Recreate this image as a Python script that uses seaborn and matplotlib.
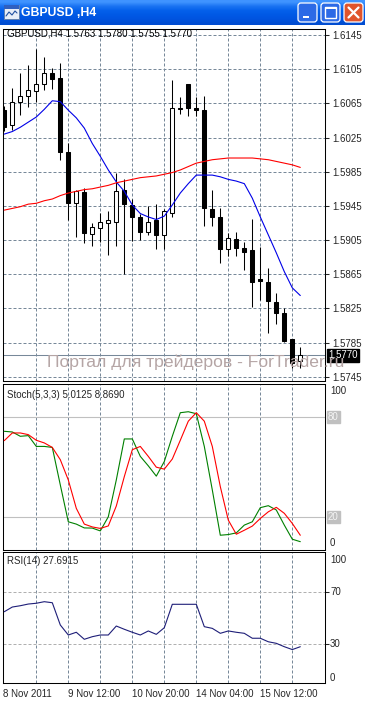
import numpy as np
import pandas as pd
import seaborn as sns
import matplotlib.pyplot as plt
from matplotlib.patches import FancyBboxPatch, Rectangle

# --- GBPUSD H4 candles ---
opens = [1.6057, 1.6040, 1.6066, 1.6074, 1.6080, 1.6088, 1.6101, 1.6095, 1.6008, 1.5948,
         1.5961, 1.5912, 1.5919, 1.5925, 1.5926, 1.5964, 1.5946, 1.5932, 1.5914, 1.5928,
         1.5911, 1.5937, 1.6060, 1.6088, 1.6060, 1.6057, 1.5941, 1.5932, 1.5894, 1.5906,
         1.5896, 1.5893, 1.5859, 1.5856, 1.5832, 1.5820, 1.5789, 1.5763]
highs = [1.6062, 1.6083, 1.6100, 1.6110, 1.6129, 1.6119, 1.6106, 1.6112, 1.6018, 1.5964,
         1.5966, 1.5925, 1.5937, 1.5939, 1.5984, 1.5977, 1.5953, 1.5935, 1.5945, 1.5947,
         1.5941, 1.6092, 1.6073, 1.6088, 1.6073, 1.6074, 1.5964, 1.5942, 1.5913, 1.5914,
         1.5903, 1.5930, 1.5897, 1.5872, 1.5843, 1.5826, 1.5789, 1.5780]
lows = [1.6033, 1.6034, 1.6051, 1.6061, 1.6067, 1.6081, 1.6082, 1.5999, 1.5928, 1.5908,
        1.5902, 1.5898, 1.5903, 1.5887, 1.5898, 1.5865, 1.5904, 1.5905, 1.5911, 1.5894,
        1.5895, 1.5932, 1.6053, 1.6050, 1.6050, 1.5921, 1.5921, 1.5878, 1.5886, 1.5886,
        1.5870, 1.5827, 1.5835, 1.5796, 1.5807, 1.5786, 1.5755, 1.5755]
closes = [1.6037, 1.6067, 1.6074, 1.6081, 1.6088, 1.6101, 1.6094, 1.6008, 1.5948, 1.5962,
          1.5913, 1.5920, 1.5926, 1.5928, 1.5962, 1.5947, 1.5932, 1.5914, 1.5926, 1.5911,
          1.5939, 1.6059, 1.6058, 1.6059, 1.6057, 1.5942, 1.5932, 1.5895, 1.5907, 1.5896,
          1.5891, 1.5856, 1.5857, 1.5834, 1.5820, 1.5787, 1.5761, 1.5770]

# moving averages (blue = fast, red = slow)
ma_fast = [1.6029, 1.6032, 1.6037, 1.6043, 1.6049, 1.6058, 1.6068, 1.6067, 1.6057, 1.6048,
           1.6036, 1.6018, 1.6003, 1.5987, 1.5973, 1.5962, 1.5946, 1.5936, 1.5932, 1.5929,
           1.5933, 1.5946, 1.5960, 1.5971, 1.5981, 1.5981, 1.5981, 1.5979, 1.5976, 1.5974,
           1.5971, 1.5954, 1.5932, 1.5911, 1.5890, 1.5868, 1.5849, 1.5840]
ma_slow = [1.5940, 1.5942, 1.5944, 1.5947, 1.5948, 1.5951, 1.5953, 1.5957, 1.5960, 1.5962,
           1.5964, 1.5965, 1.5967, 1.5969, 1.5972, 1.5974, 1.5976, 1.5978, 1.5979, 1.5980,
           1.5982, 1.5984, 1.5987, 1.5991, 1.5995, 1.5997, 1.5999, 1.6000, 1.6001, 1.6001,
           1.6001, 1.6001, 1.6000, 1.5999, 1.5997, 1.5995, 1.5993, 1.5990]

# Stochastic(5,3,3)
stoch_main = [71.5, 71.1, 68.5, 68.9, 62.4, 62.4, 61.8, 39.2, 17.0, 15.6,
              13.3, 13.2, 11.5, 20.0, 42.2, 66.9, 66.9, 56.4, 50.7, 44.5,
              53.3, 68.5, 82.7, 83.3, 82.1, 62.4, 36.2, 8.9, 9.3, 10.3,
              15.0, 17.0, 25.5, 26.7, 24.1, 15.0, 6.5, 5.0125]
stoch_signal = [65.9, 70.5, 70.5, 69.5, 66.1, 64.5, 61.8, 54.4, 42.2, 25.1,
                15.6, 13.9, 13.0, 14.5, 26.5, 44.2, 60.4, 62.4, 56.4, 49.9,
                48.7, 54.8, 66.1, 77.6, 82.7, 77.6, 62.4, 38.2, 18.0, 9.5,
                11.9, 14.4, 19.0, 23.0, 25.7, 22.1, 16.0, 8.869]

# RSI(14)
rsi = [54.6, 58.2, 59.2, 60.5, 61.1, 62.3, 61.5, 44.4, 36.7, 38.8,
       33.4, 35.4, 36.7, 36.7, 43.6, 41.1, 38.8, 36.7, 39.8, 37.2,
       42.3, 60.3, 60.3, 60.3, 60.3, 43.1, 41.8, 38.0, 39.8, 38.8,
       38.0, 34.2, 34.2, 31.5, 30.3, 27.7, 25.5, 27.6915]

price_ticks = [1.6145, 1.6105, 1.6065, 1.6025, 1.5985, 1.5945, 1.5905, 1.5865, 1.5825, 1.5785, 1.5745]
date_ticks = [-0.125, 8, 16, 24, 32]
date_labels = ['8 Nov 2011', '9 Nov 12:00', '10 Nov 20:00', '14 Nov 04:00', '15 Nov 12:00']

W, H = 365, 702
GRID = '#778899'
FS = 7.0

sns.set_style('white')
plt.rcParams['font.family'] = ['Liberation Sans', 'DejaVu Sans']

df = pd.DataFrame({'bar': np.arange(len(closes)), 'open': opens, 'high': highs,
                   'low': lows, 'close': closes, 'ma_fast': ma_fast, 'ma_slow': ma_slow,
                   'k': stoch_main, 'd': stoch_signal, 'rsi': rsi})

fig = plt.figure(figsize=(W / 100, H / 100), dpi=100)
fig.patch.set_facecolor('white')


def px_axes(x0, y0, x1, y1):
    return fig.add_axes([x0 / W, 1 - y1 / H, (x1 - x0) / W, (y1 - y0) / H])


def ptext(x, y, s, **kw):
    return fig.text(x / W, 1 - y / H, s, **kw)


def style_panel(ax):
    for sp in ax.spines.values():
        sp.set_color('black')
        sp.set_linewidth(0.75)
        sp.set_visible(True)
    ax.set_facecolor('white')
    ax.set_xlim(-0.1625, 40.0875)
    for g in range(4, 40, 4):
        ax.axvline(g, color=GRID, lw=0.72, ls=(0, (3, 2)), zorder=0)


# --- title bar ---
tb = px_axes(0, 0, W, 25)
grad = np.array([[0.25, 0.58, 1.0], [0.10, 0.45, 0.95], [0.02, 0.38, 0.92],
                 [0.0, 0.35, 0.90], [0.0, 0.33, 0.88], [0.0, 0.30, 0.82]])
tb.imshow(grad[:, None, :], aspect='auto', extent=(0, W, 25, 0), interpolation='bilinear')
tb.set_xlim(0, W)
tb.set_ylim(25, 0)
tb.axis('off')
tb.add_patch(Rectangle((4, 5), 15, 14, fc='#e8eef8', ec='#6080b0', lw=0.7))
tb.add_patch(Rectangle((4, 5), 15, 4, fc='#3060c0', ec='none'))
tb.plot([6, 9, 12, 15, 17], [16, 12, 15, 11, 13], color='#2050a0', lw=0.8)
tb.text(21, 12.5, 'GBPUSD ,H4', color='white', fontsize=8.8, fontweight='bold',
        va='center', ha='left', family=['Liberation Sans', 'DejaVu Sans'])
for x0, fc in [(298, '#2c6ae6'), (321, '#2c6ae6'), (344, '#e0542c')]:
    tb.add_patch(FancyBboxPatch((x0, 3), 19, 19, boxstyle='round,pad=0,rounding_size=3',
                                fc=fc, ec='white', lw=0.9))
tb.add_patch(Rectangle((302.5, 15.5), 6, 2.5, fc='white', ec='none'))
tb.add_patch(Rectangle((325, 7), 11, 11, fc='none', ec='white', lw=1.0))
tb.add_patch(Rectangle((325, 7), 11, 2, fc='white', ec='none'))
tb.plot([348.5, 358.5], [7.5, 17.5], color='white', lw=1.6)
tb.plot([348.5, 358.5], [17.5, 7.5], color='white', lw=1.6)

# --- main price panel ---
ax = px_axes(3, 29, 325, 381)
style_panel(ax)
ax.set_ylim(1.573997, 1.615202)
for p in price_ticks:
    ax.axhline(p, color=GRID, lw=0.72, ls=(0, (3, 2)), zorder=0)
ax.axhline(closes[-1], color=GRID, lw=0.75, zorder=1)

ax.vlines(df['bar'], df['low'], df['high'], color='black', lw=0.75, zorder=2)
body_lo = np.minimum(df['open'], df['close'])
body_h = np.maximum((df['close'] - df['open']).abs(), 0.00008)
colors = ['white' if c >= o else 'black' for o, c in zip(opens, closes)]
ax.bar(df['bar'], body_h, bottom=body_lo, width=0.5, color=colors,
       edgecolor='black', linewidth=0.75, zorder=3)
sns.lineplot(data=df, x='bar', y='ma_fast', ax=ax, color='#0000e8', lw=0.8, zorder=4)
sns.lineplot(data=df, x='bar', y='ma_slow', ax=ax, color='#ff0000', lw=0.8, zorder=4)

ax.yaxis.tick_right()
ax.set_yticks(price_ticks)
ax.set_yticklabels([f'{p:.4f}' for p in price_ticks])
ax.tick_params(axis='y', direction='out', length=3, width=0.75, pad=2, labelsize=FS)
ax.set_xticks([])
ax.set_xlabel('')
ax.set_ylabel('')
ax.annotate(f'{closes[-1]:.4f}', xy=(1.0, closes[-1]), xycoords=('axes fraction', 'data'),
            xytext=(2.5, 0), textcoords='offset points', ha='left', va='center',
            fontsize=FS, color='white', annotation_clip=False, zorder=6,
            bbox=dict(boxstyle='square,pad=0.15', fc='black', ec='black'))
ptext(7, 34, f'GBPUSD,H4 {opens[-1]:.4f} {highs[-1]:.4f} {lows[-1]:.4f} {closes[-1]:.4f}',
      fontsize=FS, va='center', ha='left', color='black')
ptext(47, 362, 'Портал для трейдеров - ForTrader.ru', fontsize=12.6, color='#b5a5a5',
      va='center', ha='left', zorder=10)

# --- stochastic panel ---
ax2 = px_axes(3, 384, 325, 550)
style_panel(ax2)
ax2.set_ylim(0, 100)
for lvl in [80, 20]:
    ax2.axhline(lvl, color='#c0c0c0', lw=0.8, zorder=1)
sns.lineplot(data=df, x='bar', y='k', ax=ax2, color='#008000', lw=0.8, zorder=3)
sns.lineplot(data=df, x='bar', y='d', ax=ax2, color='#ff0000', lw=0.8, zorder=3)
ax2.set_xticks([])
ax2.set_yticks([])
ax2.set_xlabel('')
ax2.set_ylabel('')
ptext(7, 395, f'Stoch(5,3,3) {stoch_main[-1]:.4f} {stoch_signal[-1]:.4f}',
      fontsize=FS, va='center', ha='left')
ptext(330, 391.5, '100', fontsize=FS, va='center', ha='left')
ptext(330, 543.5, '0', fontsize=FS, va='center', ha='left')
for lvl in [80, 20]:
    ax2.annotate(str(lvl), xy=(1.0, lvl), xycoords=('axes fraction', 'data'),
                 xytext=(2.0, 0), textcoords='offset points', ha='left', va='center',
                 fontsize=FS, color='#f4f4f4', annotation_clip=False,
                 bbox=dict(boxstyle='square,pad=0.1', fc='#c0c0c0', ec='#c0c0c0'))

# --- RSI panel ---
ax3 = px_axes(3, 552, 325, 683)
style_panel(ax3)
ax3.set_ylim(-0.2, 100.5)
for lvl in [70, 30]:
    ax3.axhline(lvl, color='#b0b0b0', lw=0.72, ls=(0, (3, 2)), zorder=1)
sns.lineplot(data=df, x='bar', y='rsi', ax=ax3, color='#1e1e78', lw=0.8, zorder=3)
ax3.set_ylabel('')
ax3.set_xlabel('')
ax3.yaxis.tick_right()
ax3.set_yticks([70, 30])
ax3.set_yticklabels(['', ''])
ax3.tick_params(axis='y', direction='out', length=3, width=0.75)
ax3.set_xticks(date_ticks)
ax3.set_xticklabels(date_labels)
ax3.tick_params(axis='x', direction='out', length=3, width=0.75, pad=1.5, labelsize=FS)
for lbl in ax3.get_xticklabels():
    lbl.set_horizontalalignment('left')
ptext(7, 561.5, f'RSI(14) {rsi[-1]:.4f}', fontsize=FS, va='center', ha='left')
for lvl, y in [('100', 560), ('70', 591.7), ('30', 643.7), ('0', 677.7)]:
    ptext(330, y, lvl, fontsize=FS, va='center', ha='left')

fig.savefig('out.png', dpi=100)
